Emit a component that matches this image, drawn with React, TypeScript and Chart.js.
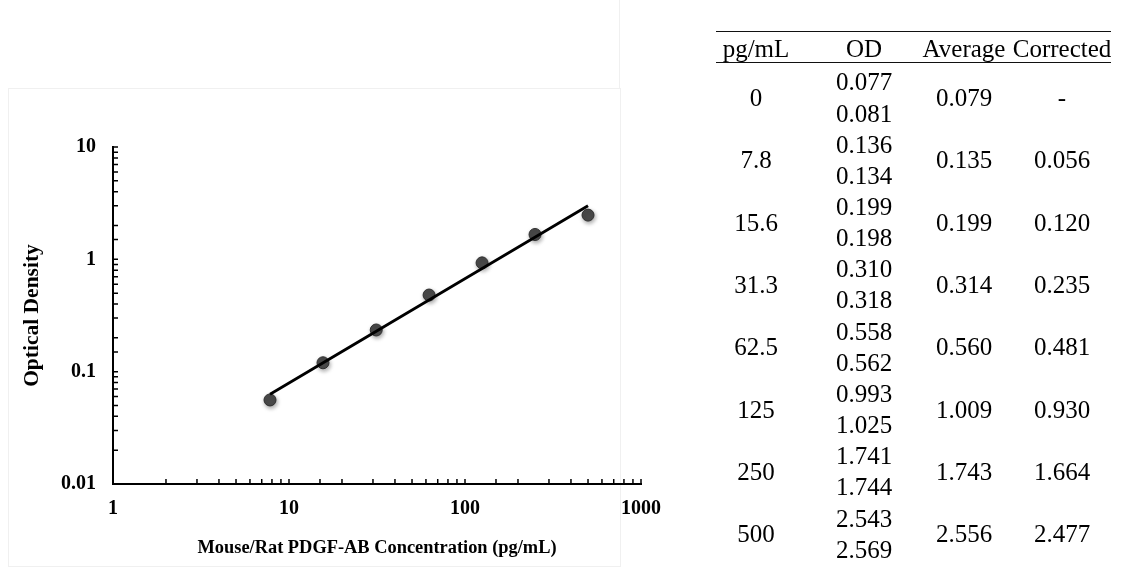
import React, { useEffect, useRef } from 'react';
import { Chart, registerables } from 'chart.js';

Chart.register(...registerables);

// ---- Chart data ----
const concentrations = [7.8, 15.6, 31.3, 62.5, 125, 250, 500];
const correctedOD = [0.056, 0.12, 0.235, 0.481, 0.93, 1.664, 2.477];
const fitLineX = [7.8, 500];
const fitLineY = [0.063, 3.0];
const xTickLabels = ['1', '10', '100', '1000'];
const yTickLabels = ['0.01', '0.1', '1', '10'];
const xAxisTitle = 'Mouse/Rat PDGF-AB Concentration (pg/mL)';
const yAxisTitle = 'Optical Density';

// ---- Table data ----
const tableHeaders = ['pg/mL', 'OD', 'Average', 'Corrected'];
const tableConc = ['0', '7.8', '15.6', '31.3', '62.5', '125', '250', '500'];
const tableOD1 = ['0.077', '0.136', '0.199', '0.310', '0.558', '0.993', '1.741', '2.543'];
const tableOD2 = ['0.081', '0.134', '0.198', '0.318', '0.562', '1.025', '1.744', '2.569'];
const tableAverage = ['0.079', '0.135', '0.199', '0.314', '0.560', '1.009', '1.743', '2.556'];
const tableCorrected = ['-', '0.056', '0.120', '0.235', '0.481', '0.930', '1.664', '2.477'];

const SERIF = '"Liberation Serif", "Times New Roman", serif';

const decadeIndex = (v: number): number | null => {
  const l = Math.log10(v);
  const r = Math.round(l);
  return Math.abs(l - r) < 1e-6 ? r : null;
};

const insideTicks = {
  id: 'insideTicks',
  afterDatasetsDraw(chart: any) {
    const { ctx, chartArea, scales } = chart;
    const len = 5;
    ctx.save();
    ctx.strokeStyle = '#000';
    ctx.lineWidth = 1.5;
    ctx.beginPath();
    scales.x.ticks.forEach((t: any) => {
      const px = scales.x.getPixelForValue(t.value);
      ctx.moveTo(px, chartArea.bottom);
      ctx.lineTo(px, chartArea.bottom - len);
    });
    scales.y.ticks.forEach((t: any) => {
      const py = scales.y.getPixelForValue(t.value);
      ctx.moveTo(chartArea.left, py);
      ctx.lineTo(chartArea.left + len, py);
    });
    ctx.stroke();
    ctx.restore();
  },
};

const pointShadow = {
  id: 'pointShadow',
  beforeDatasetDraw(chart: any, args: any) {
    if (args.index === 1) {
      const ctx = chart.ctx;
      ctx.save();
      ctx.shadowColor = 'rgba(0,0,0,0.35)';
      ctx.shadowBlur = 4;
      ctx.shadowOffsetX = 1;
      ctx.shadowOffsetY = 2;
    }
  },
  afterDatasetDraw(chart: any, args: any) {
    if (args.index === 1) chart.ctx.restore();
  },
};

function StandardCurve() {
  const ref = useRef<HTMLCanvasElement | null>(null);
  useEffect(() => {
    if (!ref.current) return;
    const chart = new Chart(ref.current, {
      type: 'scatter',
      data: {
        datasets: [
          {
            type: 'line',
            data: fitLineX.map((x, i) => ({ x, y: fitLineY[i] })),
            borderColor: '#000',
            borderWidth: 2.8,
            pointRadius: 0,
            fill: false,
          } as any,
          {
            type: 'scatter',
            data: concentrations.map((x, i) => ({ x, y: correctedOD[i] })),
            backgroundColor: '#4a4a4a',
            borderColor: '#2e2e2e',
            borderWidth: 1,
            pointRadius: 6,
          },
        ],
      },
      options: {
        animation: false,
        responsive: false,
        devicePixelRatio: 1,
        layout: { padding: { top: 147, right: 59, bottom: 0, left: 0 } },
        plugins: { legend: { display: false }, tooltip: { enabled: false } },
        scales: {
          x: {
            type: 'logarithmic',
            position: 'bottom',
            min: 1,
            max: 1000,
            grid: { display: false, drawTicks: false },
            border: { display: true, color: '#000', width: 2 },
            ticks: {
              autoSkip: false,
              maxRotation: 0,
              padding: 13,
              color: '#000',
              font: { family: SERIF, size: 20, weight: 'bold' },
              callback: (v: any) => {
                const r = decadeIndex(Number(v));
                return r === null ? '' : xTickLabels[r] ?? '';
              },
            },
            title: {
              display: true,
              text: xAxisTitle,
              color: '#000',
              font: { family: SERIF, size: 18.4, weight: 'bold' },
              padding: { top: 0, bottom: 10 },
            },
            afterFit: (s: any) => {
              s.height = 85;
            },
          },
          y: {
            type: 'logarithmic',
            position: 'left',
            min: 0.01,
            max: 10,
            grid: { display: false, drawTicks: false },
            border: { display: true, color: '#000', width: 2 },
            ticks: {
              autoSkip: false,
              padding: 17,
              color: '#000',
              font: { family: SERIF, size: 20, weight: 'bold' },
              callback: (v: any) => {
                const r = decadeIndex(Number(v));
                return r === null ? '' : yTickLabels[r + 2] ?? '';
              },
            },
            title: {
              display: true,
              text: yAxisTitle,
              color: '#000',
              font: { family: SERIF, size: 21.5, weight: 'bold' },
              padding: { top: 20, bottom: 0 },
            },
            afterFit: (s: any) => {
              s.width = 113;
            },
          },
        },
      } as any,
      plugins: [insideTicks, pointShadow],
    });
    return () => chart.destroy();
  }, []);
  return (
    <canvas
      ref={ref}
      width={700}
      height={569}
      style={{ position: 'absolute', left: 0, top: 0, width: 700, height: 569 }}
    />
  );
}

function DataTable() {
  const colCenters = [756, 864, 964, 1062];
  const tableLeft = 716;
  const tableRight = 1111;
  const lineH = 31.15;
  const firstLine = 82;
  const cellW = 130;
  const cell = (text: string, cx: number, cy: number, key: string) => (
    <div
      key={key}
      style={{
        position: 'absolute',
        left: cx - cellW / 2,
        top: cy - lineH / 2,
        width: cellW,
        height: lineH,
        lineHeight: `${lineH}px`,
        textAlign: 'center',
        whiteSpace: 'nowrap',
      }}
    >
      {text}
    </div>
  );
  const items: any[] = [];
  tableHeaders.forEach((h, c) => items.push(cell(h, colCenters[c], 49, `h${c}`)));
  tableConc.forEach((conc, g) => {
    const l1 = firstLine + lineH * 2 * g;
    const l2 = l1 + lineH;
    const mid = (l1 + l2) / 2;
    items.push(cell(conc, colCenters[0], mid, `c${g}`));
    items.push(cell(tableOD1[g], colCenters[1], l1, `o1${g}`));
    items.push(cell(tableOD2[g], colCenters[1], l2, `o2${g}`));
    items.push(cell(tableAverage[g], colCenters[2], mid, `a${g}`));
    items.push(cell(tableCorrected[g], colCenters[3], mid, `r${g}`));
  });
  return (
    <div style={{ position: 'absolute', left: 0, top: 0, width: 1121, height: 569, fontFamily: SERIF, fontSize: 25, color: '#000' }}>
      <div style={{ position: 'absolute', left: tableLeft, top: 31, width: tableRight - tableLeft, height: 0, borderTop: '1.5px solid #111' }} />
      <div style={{ position: 'absolute', left: tableLeft, top: 62, width: tableRight - tableLeft, height: 0, borderTop: '1.5px solid #111' }} />
      {items}
    </div>
  );
}

export default function App() {
  return (
    <div style={{ position: 'absolute', left: 0, top: 0, width: 1121, height: 569, background: '#fff', overflow: 'hidden' }}>
      <div style={{ position: 'absolute', left: 8, top: 88, width: 611, height: 477, border: '1px solid #f0f0f0' }} />
      <div style={{ position: 'absolute', left: 619, top: 0, width: 0, height: 88, borderLeft: '1px solid #f0f0f0' }} />
      <StandardCurve />
      <DataTable />
    </div>
  );
}
